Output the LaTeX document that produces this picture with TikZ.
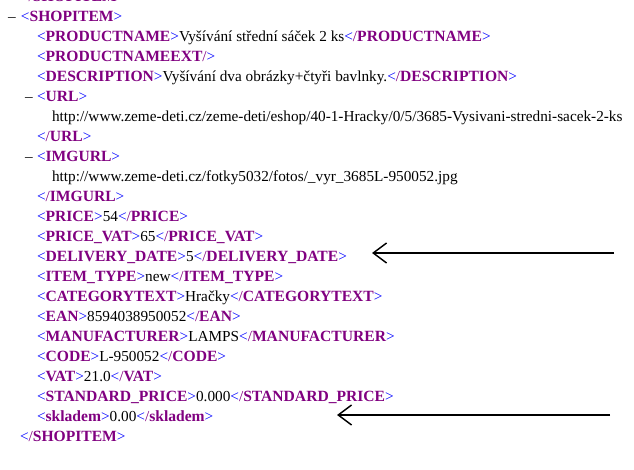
\documentclass[tikz,border=0pt]{standalone}
\usepackage{fontspec}
\setmainfont{Liberation Serif}
\usetikzlibrary{arrows.meta}
\definecolor{mk}{RGB}{0,0,255}
\definecolor{tg}{RGB}{128,0,128}
\newcommand\TagFont{\fontsize{11.7}{13}\selectfont\bfseries}
\newcommand\XOpen[1]{{\color{mk}<}{\color{tg}\TagFont #1}{\color{mk}>}}
\newcommand\XClose[1]{{\color{mk}<}{\color{tg}/\TagFont #1}{\color{mk}>}}
\newcommand\XEmpty[1]{{\color{mk}<}{\color{tg}\TagFont #1}{\color{tg}/}{\color{mk}>}}
\tikzset{
  xline/.style={anchor=base west, inner sep=0pt, outer sep=0pt,
    font=\fontsize{11.45}{13}\selectfont},
  toggle/.style={xline},
  pointer/.style={line width=1.6pt, -{Straight Barb[length=10pt,width=15pt,line width=1.1pt]}}
}
\begin{document}
\begin{tikzpicture}[x=0.75pt,y=-0.75pt]
\useasboundingbox (0,0) rectangle (634,470);
\node[xline] (l0) at (20,1.5) {\XClose{SHOPITEM}};
\node[toggle] (d1) at (8,21.5) {–};
\node[xline] (l1) at (21,21.5) {\XOpen{SHOPITEM}};
\node[xline] (l2) at (37,41.5) {\XOpen{PRODUCTNAME}Vyšívání střední sáček 2 ks\XClose{PRODUCTNAME}};
\node[xline] (l3) at (37,61.5) {\XEmpty{PRODUCTNAMEEXT}};
\node[xline] (l4) at (37,81.5) {\XOpen{DESCRIPTION}Vyšívání dva obrázky+čtyři bavlnky.\XClose{DESCRIPTION}};
\node[toggle] (d5) at (25,101.5) {–};
\node[xline] (l5) at (37,101.5) {\XOpen{URL}};
\node[xline] (l6) at (52,121.5) {http://www.zeme-deti.cz/zeme-deti/eshop/40-1-Hracky/0/5/3685-Vysivani-stredni-sacek-2-ks};
\node[xline] (l7) at (37,141.5) {\XClose{URL}};
\node[toggle] (d8) at (25,161.5) {–};
\node[xline] (l8) at (37,161.5) {\XOpen{IMGURL}};
\node[xline] (l9) at (52,181.5) {http://www.zeme-deti.cz/fotky5032/fotos/\_vyr\_3685L-950052.jpg};
\node[xline] (l10) at (37,201.5) {\XClose{IMGURL}};
\node[xline] (l11) at (37,221.5) {\XOpen{PRICE}54\XClose{PRICE}};
\node[xline] (l12) at (37,241.5) {\XOpen{PRICE\_VAT}65\XClose{PRICE\_VAT}};
\node[xline] (l13) at (37,261.5) {\XOpen{DELIVERY\_DATE}5\XClose{DELIVERY\_DATE}};
\node[xline] (l14) at (37,281.5) {\XOpen{ITEM\_TYPE}new\XClose{ITEM\_TYPE}};
\node[xline] (l15) at (37,301.5) {\XOpen{CATEGORYTEXT}Hračky\XClose{CATEGORYTEXT}};
\node[xline] (l16) at (37,321.5) {\XOpen{EAN}8594038950052\XClose{EAN}};
\node[xline] (l17) at (37,341.5) {\XOpen{MANUFACTURER}LAMPS\XClose{MANUFACTURER}};
\node[xline] (l18) at (37,361.5) {\XOpen{CODE}L-950052\XClose{CODE}};
\node[xline] (l19) at (37,381.5) {\XOpen{VAT}21.0\XClose{VAT}};
\node[xline] (l20) at (37,401.5) {\XOpen{STANDARD\_PRICE}0.000\XClose{STANDARD\_PRICE}};
\node[xline] (l21) at (37,421.5) {\XOpen{skladem}0.00\XClose{skladem}};
\node[xline] (l22) at (20,441.5) {\XClose{SHOPITEM}};
\coordinate (a1s) at (614,253);
\coordinate (a1e) at (372,253);
\coordinate (a2s) at (610,415);
\coordinate (a2e) at (337,415);
\draw[pointer] (a1s) -- (a1e);
\draw[pointer] (a2s) -- (a2e);
\end{tikzpicture}
\end{document}
